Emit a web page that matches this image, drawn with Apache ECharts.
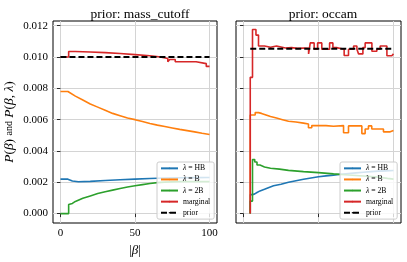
<!DOCTYPE html>
<html><head><meta charset="utf-8">
<script src="https://cdn.jsdelivr.net/npm/echarts@6/dist/echarts.min.js"></script>
<style>html,body{margin:0;padding:0;background:#fff}#c{width:407px;height:262px}</style>
</head><body><div id="c"></div>
<script>
// ---- tick labels ----
const xTicks = [0, 50, 100];
const yTicks = [0, 0.002, 0.004, 0.006, 0.008, 0.010, 0.012];
const titles = ['prior: mass_cutoff', 'prior: occam'];
const seriesNames = ['HB', 'B', '2B', 'marginal', 'prior'];

// ---- panel 1: mass_cutoff ----
const mcHBX = [0, 5, 8, 12, 20, 30, 40, 50, 60, 70, 80, 90, 100];
const mcHB  = [0.0022, 0.0022, 0.00208, 0.00203, 0.00206, 0.00211, 0.00216, 0.0022, 0.00224, 0.00227, 0.00229, 0.0023, 0.00231];
const mcBX = [0, 5, 10, 15, 20, 25, 30, 35, 40, 45, 50, 55, 60, 65, 70, 75, 80, 85, 90, 95, 100];
const mcB  = [0.0078, 0.0078, 0.0075, 0.00725, 0.0070, 0.0068, 0.0066, 0.0064, 0.00625, 0.0061, 0.0060, 0.00588, 0.00576, 0.00565, 0.00556, 0.00547, 0.00538, 0.0053, 0.00522, 0.00513, 0.00505];
const mc2BX = [0, 5.5, 5.5, 8, 10, 15, 20, 25, 30, 35, 40, 45, 50, 55, 60, 65, 70, 80, 90, 100];
const mc2B  = [0, 0, 0.00058, 0.00065, 0.00078, 0.00098, 0.00113, 0.00128, 0.0014, 0.0015, 0.0016, 0.0017, 0.00178, 0.00185, 0.00192, 0.00198, 0.00201, 0.00204, 0.00205, 0.00204];
const mcMX = [0, 5.5, 10, 20, 30, 40, 50, 60, 66, 72, 73.3, 77, 91, 97.8, 100];
const mcM  = [0.0100, 0.01035, 0.01032, 0.01028, 0.01022, 0.01015, 0.01008, 0.01002, 0.0099, 0.0097, 0.00984, 0.0097, 0.00958, 0.0094, 0.0094];
const mcPX = [0, 100];
const mcP  = [0.0100, 0.0100];

// ---- panel 2: occam ----
const ocHBX = [4.5, 4.5, 6, 7.5, 9, 11, 14, 17, 20, 25, 30, 35, 40, 45, 50, 55, 60, 65, 70, 75, 80, 85, 90, 95, 100];
const ocHB  = [0, 0.00121, 0.00126, 0.00135, 0.00145, 0.00155, 0.00167, 0.00178, 0.00188, 0.002, 0.0021, 0.00219, 0.00227, 0.00235, 0.00241, 0.00246, 0.00251, 0.00256, 0.0026, 0.00264, 0.00268, 0.00271, 0.00273, 0.00275, 0.00276];
const ocBX = [4.5, 4.5, 7.8, 10, 12, 15, 18, 22, 26, 30, 35, 40, 43.3, 45.5, 55, 60, 66.7, 70, 78.9, 81.1, 83.3, 85.5, 93.3, 97.8, 100];
const ocB  = [0, 0.0063, 0.00645, 0.0064, 0.0063, 0.0062, 0.0061, 0.006, 0.0059, 0.00585, 0.00578, 0.00572, 0.00548, 0.00562, 0.00558, 0.00562, 0.00516, 0.0056, 0.00511, 0.0054, 0.0056, 0.0054, 0.00522, 0.0053, 0.0053];
const oc2BX = [4.5, 4.5, 6, 7.5, 9, 11, 14, 18, 24, 30, 40, 50, 60, 70, 80, 90, 96, 100];
const oc2B  = [0, 0.0008, 0.00345, 0.0033, 0.0031, 0.00298, 0.0029, 0.00284, 0.00276, 0.00268, 0.00262, 0.00254, 0.00247, 0.0024, 0.00233, 0.00225, 0.0022, 0.0022];
const ocMX = [4.5, 4.5, 6, 8.3, 10, 14, 18, 22, 28, 32, 36, 40, 43.4, 44.5, 47.1, 49.4, 52.2, 57.4, 59.6, 62, 67.1, 70, 73.4, 75.6, 76.7, 79.6, 81.1, 85.6, 88.9, 91.1, 95.6, 98.9, 100];
const ocM  = [0, 0.0087, 0.01176, 0.0114, 0.0107, 0.01062, 0.0107, 0.01058, 0.0106, 0.01055, 0.01058, 0.01055, 0.0102, 0.0109, 0.0105, 0.0109, 0.0105, 0.0109, 0.0106, 0.0105, 0.0101, 0.0105, 0.0107, 0.0105, 0.0102, 0.0106, 0.0109, 0.01037, 0.0105, 0.0107, 0.01008, 0.0102, 0.0102];
const ocPX = [4.5, 100];
const ocP  = [0.010526, 0.010526];

const colors = {HB: '#1f77b4', B: '#ff7f0e', '2B': '#2ca02c', marginal: '#d62728', prior: '#000000'};
const FONT = 'Liberation Serif';

function pairs(xs, ys) { return xs.map((x, i) => [x, ys[i]]); }

const panels = [
  {grid: 0, step: false, data: {HB: [mcHBX, mcHB], B: [mcBX, mcB], '2B': [mc2BX, mc2B], marginal: [mcMX, mcM], prior: [mcPX, mcP]}},
  {grid: 1, step: 'end', data: {HB: [ocHBX, ocHB], B: [ocBX, ocB], '2B': [oc2BX, oc2B], marginal: [ocMX, ocM], prior: [ocPX, ocP]}}
];

const series = [];
panels.forEach(p => {
  seriesNames.forEach(n => {
    const isPrior = n === 'prior';
    series.push({
      name: n, type: 'line', xAxisIndex: p.grid, yAxisIndex: p.grid,
      data: pairs(p.data[n][0], p.data[n][1]),
      symbol: 'none', showSymbol: false,
      step: n === 'marginal' ? 'end' : (isPrior ? false : p.step),
      lineStyle: {color: colors[n], width: isPrior ? 2 : 1.6, type: isPrior ? [6, 3] : 'solid'},
      itemStyle: {color: colors[n]},
      z: isPrior ? 4 : 3, animation: false, silent: true
    });
  });
});

const grids = [
  {left: 53, top: 21, width: 164, height: 202},
  {left: 236, top: 21, width: 165, height: 202}
].map(g => Object.assign(g, {show: true, borderColor: '#000', borderWidth: 1, backgroundColor: 'transparent'}));

function xAxis(i) {
  return {
    type: 'value', gridIndex: i, min: -5, max: 105,
    axisLine: {show: false},
    axisTick: {show: true, length: 3.5, inside: false, customValues: xTicks, lineStyle: {color: '#000', width: 0.8}},
    axisLabel: {show: i === 0, customValues: xTicks, fontSize: 11, color: '#000', fontFamily: FONT, margin: 5},
    splitLine: {show: true, lineStyle: {color: '#d4d4d4', width: 1}},
    name: i === 0 ? '|{i|β}|' : '', nameLocation: 'middle', nameGap: 18,
    nameTextStyle: {fontSize: 13, color: '#000', fontFamily: FONT, rich: {i: {fontStyle: 'italic', fontSize: 13, fontFamily: FONT, color: '#000'}}}
  };
}
function yAxis(i) {
  return {
    type: 'value', gridIndex: i, min: -0.0006, max: 0.0123,
    axisLine: {show: false},
    axisTick: {show: true, length: 3.5, inside: false, customValues: yTicks, lineStyle: {color: '#000', width: 0.8}},
    axisLabel: {show: i === 0, customValues: yTicks, fontSize: 11, color: '#000', fontFamily: FONT, margin: 5, formatter: v => v.toFixed(3)},
    splitLine: {show: true, lineStyle: {color: '#d4d4d4', width: 1}},
    name: i === 0 ? '{i|P}({i|β}) {s|and} {i|P}({i|β}, {i|λ})' : '',
    nameLocation: 'middle', nameRotate: 90, nameGap: 37,
    nameTextStyle: {fontSize: 13.5, color: '#000', fontFamily: FONT,
      rich: {i: {fontStyle: 'italic', fontSize: 13.5, fontFamily: FONT, color: '#000'}, s: {fontSize: 10, fontFamily: FONT, color: '#000'}}}
  };
}

function legend(left, top) {
  return {
    show: true, orient: 'vertical', left: left, top: top,
    data: seriesNames, itemWidth: 17, itemHeight: 2, itemGap: 2.4,
    padding: [2, 4, 2, 3],
    backgroundColor: 'rgba(255,255,255,0.8)', borderColor: '#cccccc', borderWidth: 1, borderRadius: 2,
    lineStyle: {width: 2},
    textStyle: {fontSize: 7.7, lineHeight: 8.7, color: '#000', fontFamily: FONT,
      rich: {i: {fontStyle: 'italic', fontSize: 7.7, lineHeight: 8.7, fontFamily: FONT, color: '#000'}}},
    formatter: n => (n === 'marginal' || n === 'prior') ? n : '{i|λ} = ' + n,
    selectedMode: false
  };
}

const chart = echarts.init(document.getElementById('c'), null, {renderer: 'canvas'});
chart.setOption({
  animation: false,
  title: [
    {text: titles[0], left: 135, top: 2, textAlign: 'center', textStyle: {fontSize: 13.5, fontWeight: 'normal', color: '#000', fontFamily: FONT}},
    {text: titles[1], left: 318, top: 2, textAlign: 'center', textStyle: {fontSize: 13.5, fontWeight: 'normal', color: '#000', fontFamily: FONT}}
  ],
  grid: grids,
  xAxis: [xAxis(0), xAxis(1)],
  yAxis: [yAxis(0), yAxis(1)],
  legend: [legend(157, 162), legend(340, 162)],
  series: series
});
</script></body></html>
